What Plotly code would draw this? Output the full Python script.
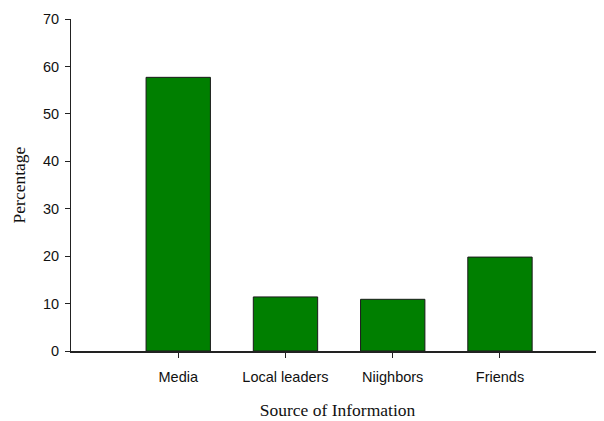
import plotly.graph_objects as go

categories = ["Media", "Local leaders", "Niighbors", "Friends"]
percentages = [57.7, 11.4, 10.9, 19.8]
y_ticks = [0, 10, 20, 30, 40, 50, 60, 70]

positions = list(range(len(categories)))

fig = go.Figure(
    go.Bar(
        x=positions,
        y=percentages,
        width=0.6,
        marker=dict(color="#007f00", line=dict(color="#1a1a1a", width=1)),
    )
)

sans = "Liberation Sans, Arial, sans-serif"
serif = "Liberation Serif, Times New Roman, serif"

# page body has an 8px default margin; figure is sized to fit the window
fig.update_layout(
    width=596,
    height=413,
    margin=dict(l=63, r=0, t=11, b=70),
    paper_bgcolor="white",
    plot_bgcolor="white",
    showlegend=False,
)

fig.update_xaxes(
    range=[-1, 3.97],
    tickvals=positions,
    ticktext=categories,
    ticks="outside",
    ticklen=5,
    tickcolor="#222",
    tickwidth=1,
    ticklabelstandoff=7,
    showline=True,
    linecolor="#222",
    linewidth=2,
    showgrid=False,
    zeroline=False,
    tickfont=dict(family=sans, size=14.5, color="#111"),
    title=dict(text="Source of Information", font=dict(family=serif, size=17.5, color="#111"), standoff=19),
)

fig.update_yaxes(
    range=[0, 70],
    tickvals=y_ticks,
    ticks="outside",
    ticklen=5,
    tickcolor="#222",
    tickwidth=1,
    ticklabelstandoff=3,
    showline=True,
    linecolor="#222",
    linewidth=1,
    showgrid=False,
    zeroline=False,
    tickfont=dict(family=sans, size=14.5, color="#111"),
    title=dict(text="Percentage", font=dict(family=serif, size=17.5, color="#111"), standoff=12),
)

fig.write_html("out.html")
